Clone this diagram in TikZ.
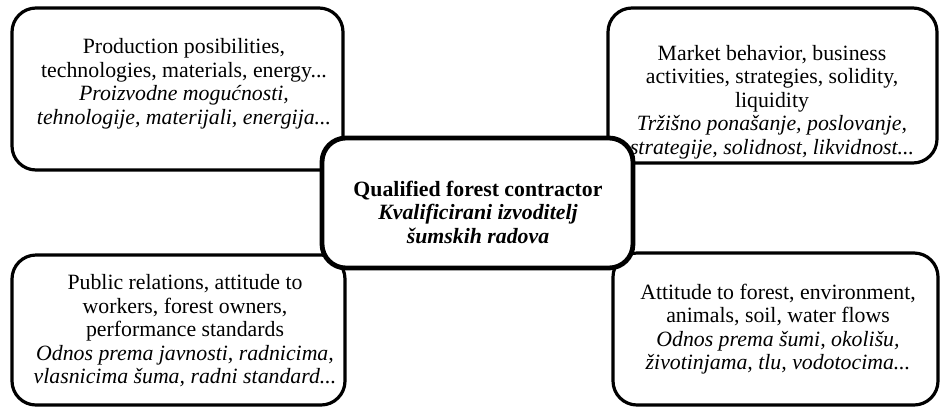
\documentclass[tikz,border=0pt]{standalone}
\usepackage{fontspec}
\setmainfont{Liberation Serif}
\begin{document}
\begin{tikzpicture}[x=1pt,y=-1pt,
  cornerbox/.style={draw=black, fill=white, line width=3.2pt, rounded corners=24pt, rectangle, inner sep=0pt},
  centerbox/.style={draw=black, fill=white, line width=4.8pt, rounded corners=24pt, rectangle, inner sep=0pt},
  txt/.style={align=center, inner sep=0pt, font=\fontsize{21.8}{23.5}\selectfont}
]
\path[use as bounding box, fill=white] (0,0) rectangle (941,408);
% corner boxes
\node[cornerbox, minimum width=331pt, minimum height=162pt] (tl) at (177.5,89) {};
\node[cornerbox, minimum width=329pt, minimum height=155pt] (tr) at (772.5,85.5) {};
\node[cornerbox, minimum width=333pt, minimum height=150pt] (bl) at (178.5,330) {};
\node[cornerbox, minimum width=325pt, minimum height=152pt] (br) at (775.5,329) {};
% texts
\node[txt] (tltext) at (184,84) {Production posibilities,\\ technologies, materials, energy...\\ \textit{Proizvodne mogućnosti,}\\ \textit{tehnologije, materijali, energija...}};
\node[txt] (trtext) at (772,102) {Market behavior, business\\ activities, strategies, solidity,\\ liquidity\\ \textit{Tržišno ponašanje, poslovanje,}\\ \textit{strategije, solidnost, likvidnost...}};
\node[txt] (bltext) at (185,331) {Public relations, attitude to\\ workers, forest owners,\\ performance standards\\ \textit{Odnos prema javnosti, radnicima,}\\ \textit{vlasnicima šuma, radni standard...}};
\node[txt] (brtext) at (778,329) {Attitude to forest, environment,\\ animals, soil, water flows\\ \textit{Odnos prema šumi, okolišu,}\\ \textit{životinjama, tlu, vodotocima...}};
% center box
\node[centerbox, minimum width=311pt, minimum height=130pt] (c) at (477.5,203) {};
\node[txt, font=\fontsize{21.8}{23.5}\selectfont\bfseries] (ctext) at (478,212) {Qualified forest contractor\\ \textit{Kvalificirani izvoditelj}\\ \textit{šumskih radova}};
\end{tikzpicture}
\end{document}
